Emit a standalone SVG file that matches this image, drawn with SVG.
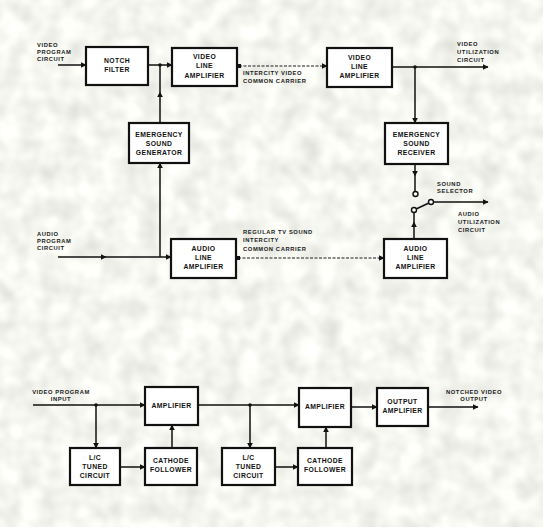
<svg xmlns="http://www.w3.org/2000/svg" width="543" height="527" viewBox="0 0 543 527">
<style>
.box{fill:#fff;stroke:#111;stroke-width:2.2}
.bt{font-family:"Liberation Sans",Arial,sans-serif;font-weight:bold;font-size:6.8px;letter-spacing:0.4px;fill:#111;text-anchor:middle}
.lb{font-family:"Liberation Sans",Arial,sans-serif;font-weight:bold;font-size:5.8px;letter-spacing:0.6px;fill:#1a1a1a}
.ln{fill:none;stroke:#111;stroke-width:1.5}
.cc{fill:none;stroke:#666;stroke-width:1.6;stroke-dasharray:3 1.5}
.ct{fill:#fff;stroke:#111;stroke-width:1.4}
</style>
<defs>
<filter id="paper" x="0" y="0" width="100%" height="100%">
<feTurbulence type="fractalNoise" baseFrequency="0.05" numOctaves="2" seed="3"/>
<feColorMatrix type="matrix" values="0.4 0 0 0 0.71  0.4 0 0 0 0.72  0.4 0 0 0 0.67  0 0 0 0 1"/>
</filter>
<marker id="ar" viewBox="0 0 10 10" refX="9" refY="5" markerWidth="6" markerHeight="6" markerUnits="userSpaceOnUse" orient="auto">
<path d="M0 0 L10 5 L0 10 Z" fill="#111"/>
</marker>
<marker id="sq" viewBox="0 0 10 10" refX="5" refY="5" markerWidth="4" markerHeight="4" markerUnits="userSpaceOnUse" orient="auto">
<rect x="0" y="0" width="10" height="10" fill="#111"/>
</marker>
</defs>
<rect x="0" y="0" width="543" height="527" fill="#e8e9e1" filter="url(#paper)"/>

<g id="connectors">
<path class="ln" d="M58 65 H86" marker-end="url(#ar)"/>
<path class="ln" d="M148 65 H172" marker-end="url(#ar)"/>
<circle cx="160" cy="65" r="1.8" fill="#111"/>
<path class="ln" d="M160 123 V92 V65" marker-mid="url(#ar)"/>
<path class="ln" d="M160 257 V163" marker-end="url(#ar)"/>
<path class="ln" d="M58 257 H106 H171" marker-mid="url(#ar)" marker-end="url(#ar)"/>
<path class="cc" d="M239 66 H327" marker-start="url(#sq)" marker-end="url(#ar)"/>
<path class="cc" d="M238 258 H384" marker-start="url(#sq)" marker-end="url(#ar)"/>
<path class="ln" d="M392 67 H488" marker-end="url(#ar)"/>
<circle cx="415" cy="67" r="1.8" fill="#111"/>
<path class="ln" d="M415 67 V123" marker-end="url(#ar)"/>
<path class="ln" d="M415 164 V176 V191.5" marker-mid="url(#ar)"/>
<path class="ln" d="M414 239 V222 V212.5" marker-mid="url(#ar)"/>
<path class="ln" d="M414 210 L431 202"/>
<path class="ln" d="M433.5 202 H488" marker-end="url(#ar)"/>
<circle class="ct" cx="415.5" cy="194" r="2.5"/>
<circle class="ct" cx="414" cy="210" r="2.5"/>
<circle class="ct" cx="431" cy="202" r="2.5"/>
<path class="ln" d="M33 405 H145" marker-end="url(#ar)"/>
<circle cx="96" cy="405" r="1.8" fill="#111"/>
<path class="ln" d="M96 405 V448" marker-end="url(#ar)"/>
<path class="ln" d="M120 467 H145" marker-end="url(#ar)"/>
<path class="ln" d="M172 448 V425" marker-end="url(#ar)"/>
<path class="ln" d="M198 405 H299" marker-end="url(#ar)"/>
<circle cx="250" cy="405" r="1.8" fill="#111"/>
<path class="ln" d="M250 405 V448" marker-end="url(#ar)"/>
<path class="ln" d="M275 467 H298" marker-end="url(#ar)"/>
<path class="ln" d="M326 448 V427" marker-end="url(#ar)"/>
<path class="ln" d="M351 407 H377" marker-end="url(#ar)"/>
<path class="ln" d="M428 407 H478" marker-end="url(#ar)"/>
</g>

<g id="labels">
<text class="lb" x="37" y="47">VIDEO</text>
<text class="lb" x="37" y="54">PROGRAM</text>
<text class="lb" x="37" y="61">CIRCUIT</text>
<text class="lb" x="37" y="236">AUDIO</text>
<text class="lb" x="37" y="243">PROGRAM</text>
<text class="lb" x="37" y="250">CIRCUIT</text>
<text class="lb" x="243" y="75">INTERCITY VIDEO</text>
<text class="lb" x="243" y="83">COMMON CARRIER</text>
<text class="lb" x="243" y="234">REGULAR TV SOUND</text>
<text class="lb" x="243" y="242">INTERCITY</text>
<text class="lb" x="243" y="251">COMMON CARRIER</text>
<text class="lb" x="457" y="46">VIDEO</text>
<text class="lb" x="457" y="54">UTILIZATION</text>
<text class="lb" x="457" y="62">CIRCUIT</text>
<text class="lb" x="437" y="186">SOUND</text>
<text class="lb" x="437" y="193">SELECTOR</text>
<text class="lb" x="458" y="216">AUDIO</text>
<text class="lb" x="458" y="224">UTILIZATION</text>
<text class="lb" x="458" y="232">CIRCUIT</text>
<text class="lb" x="61" y="394" text-anchor="middle">VIDEO PROGRAM</text>
<text class="lb" x="61" y="401" text-anchor="middle">INPUT</text>
<text class="lb" x="474" y="394" text-anchor="middle">NOTCHED VIDEO</text>
<text class="lb" x="474" y="401" text-anchor="middle">OUTPUT</text>
</g>

<g id="notch-filter"><rect class="box" x="86" y="47" width="62" height="38"/>
<text class="bt" x="117" y="63">NOTCH</text><text class="bt" x="117" y="72">FILTER</text></g>
<g id="video-line-amp-1"><rect class="box" x="172" y="48" width="65" height="38"/>
<text class="bt" x="204.5" y="59">VIDEO</text><text class="bt" x="204.5" y="68">LINE</text><text class="bt" x="204.5" y="78">AMPLIFIER</text></g>
<g id="emergency-sound-generator"><rect class="box" x="129" y="123" width="60" height="40"/>
<text class="bt" x="159" y="137">EMERGENCY</text><text class="bt" x="159" y="146">SOUND</text><text class="bt" x="159" y="155">GENERATOR</text></g>
<g id="audio-line-amp-1"><rect class="box" x="171" y="239" width="65" height="39"/>
<text class="bt" x="203.5" y="251">AUDIO</text><text class="bt" x="203.5" y="260">LINE</text><text class="bt" x="203.5" y="269">AMPLIFIER</text></g>
<g id="video-line-amp-2"><rect class="box" x="327" y="48" width="65" height="39"/>
<text class="bt" x="359.5" y="60">VIDEO</text><text class="bt" x="359.5" y="69">LINE</text><text class="bt" x="359.5" y="78">AMPLIFIER</text></g>
<g id="emergency-sound-receiver"><rect class="box" x="385" y="123" width="63" height="41"/>
<text class="bt" x="416.5" y="137">EMERGENCY</text><text class="bt" x="416.5" y="146">SOUND</text><text class="bt" x="416.5" y="155">RECEIVER</text></g>
<g id="audio-line-amp-2"><rect class="box" x="384" y="239" width="63" height="39"/>
<text class="bt" x="415.5" y="251">AUDIO</text><text class="bt" x="415.5" y="260">LINE</text><text class="bt" x="415.5" y="269">AMPLIFIER</text></g>

<g id="amplifier-1"><rect class="box" x="145" y="387" width="53" height="38"/>
<text class="bt" x="171.5" y="408">AMPLIFIER</text></g>
<g id="lc-tuned-circuit-1"><rect class="box" x="70" y="448" width="50" height="37"/>
<text class="bt" x="95" y="460">L/C</text><text class="bt" x="95" y="469">TUNED</text><text class="bt" x="95" y="478">CIRCUIT</text></g>
<g id="cathode-follower-1"><rect class="box" x="145" y="448" width="52" height="37"/>
<text class="bt" x="171" y="463">CATHODE</text><text class="bt" x="171" y="472">FOLLOWER</text></g>
<g id="lc-tuned-circuit-2"><rect class="box" x="222" y="448" width="53" height="37"/>
<text class="bt" x="248.5" y="460">L/C</text><text class="bt" x="248.5" y="469">TUNED</text><text class="bt" x="248.5" y="478">CIRCUIT</text></g>
<g id="cathode-follower-2"><rect class="box" x="298" y="448" width="54" height="37"/>
<text class="bt" x="325" y="463">CATHODE</text><text class="bt" x="325" y="472">FOLLOWER</text></g>
<g id="amplifier-2"><rect class="box" x="299" y="388" width="52" height="39"/>
<text class="bt" x="325" y="409">AMPLIFIER</text></g>
<g id="output-amplifier"><rect class="box" x="377" y="388" width="51" height="38"/>
<text class="bt" x="402.5" y="404">OUTPUT</text><text class="bt" x="402.5" y="413">AMPLIFIER</text></g>
</svg>
